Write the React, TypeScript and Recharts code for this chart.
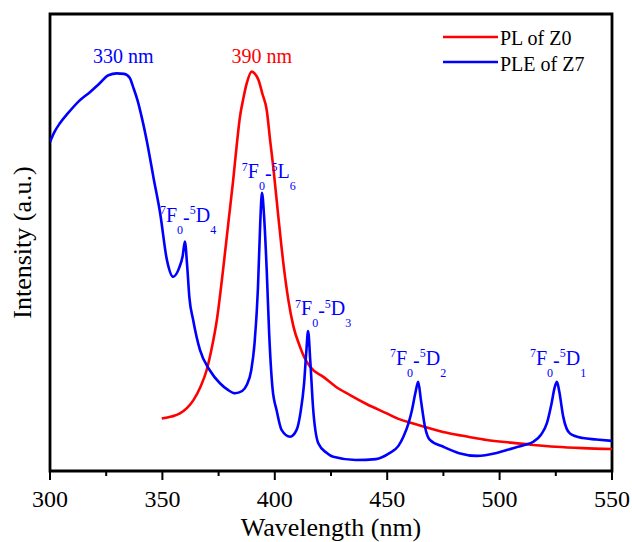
import React from 'react';
import {
  LineChart,
  Line,
  XAxis,
  YAxis,
  Legend,
  ReferenceArea,
  ReferenceDot,
} from 'recharts';

/* ── data ── */

// PLE of Z7 (blue): [wavelength nm, intensity a.u.]
const pleZ7: [number, number][] = [
  [300, 72], [302, 74.2], [304.4, 76.1], [308, 78.3], [313, 81], [318, 83],
  [322, 84.8], [326, 86.6], [329.7, 87], [333, 86.9], [335.5, 86], [337, 84],
  [339, 81], [341, 77], [343, 72.4], [346, 64.3], [349, 56.4], [352, 46.2],
  [354.8, 42.5], [357.5, 44.5], [359, 47], [360, 50.2], [361, 45], [362, 38],
  [363.7, 33], [366.7, 26.5], [371, 22.1], [375.6, 19.2], [379, 17.8],
  [382.3, 17], [385.5, 17.5], [387.5, 18.8], [389.5, 22], [391, 28],
  [392.5, 40], [393.5, 54], [394.3, 60.9], [395.2, 56], [396.4, 44],
  [397.5, 30], [399, 18], [400.8, 13.3], [403, 9], [406.8, 7.5], [409.7, 9],
  [411.5, 13], [413, 19], [414, 26], [414.8, 30.6], [415.8, 24], [417, 14],
  [419.4, 6], [423, 4], [426, 3.1], [436, 2.4], [445, 2.6], [451, 3.9],
  [455, 5.5], [457.2, 7.5], [459.5, 10.5], [461, 13.3], [462.5, 17],
  [463.8, 19.5], [465, 15.5], [466.8, 9.7], [469, 6.8], [475, 5.3],
  [482, 3.9], [490, 3.3], [499, 4], [506, 5], [511, 5.7], [515, 6.4],
  [518.5, 8], [521, 10.4], [523, 14.5], [524.5, 18.3], [525.5, 19.5],
  [526.5, 17.5], [528.3, 11.9], [531.3, 8.2], [537, 7.2], [543, 6.9],
  [550, 6.6],
];

// PL of Z0 (red)
const plZ0: [number, number][] = [
  [349.7, 11.5], [354, 11.9], [357.8, 12.6], [361, 13.8], [363.8, 15.5],
  [367, 18.5], [369.7, 22.1], [372, 27], [374.2, 33], [377.1, 44.5],
  [379.5, 55], [381.5, 63.7], [383, 71], [384.5, 77.5], [386, 81.5],
  [387.5, 84.8], [389.7, 87.4], [391, 87], [392.7, 85.6], [394.5, 82.5],
  [396.4, 79], [398, 72], [399.3, 66.6], [401.5, 56], [403.8, 45.5],
  [406, 37.5], [408.3, 31.6], [411.2, 27.2], [413, 25], [415.7, 22.8],
  [421.6, 20.6], [427, 18.5], [433.5, 16.6], [441, 14.6], [449.8, 12.6],
  [455, 11.4], [461.6, 10.4], [470, 9.2], [478, 8.2], [486, 7.5],
  [494.3, 6.8], [505, 6.2], [515, 5.7], [525, 5.3], [537, 5], [550, 4.8],
];

const xTicks = [300, 325, 350, 375, 400, 425, 450, 475, 500, 525, 550];

// peak labels: anchor in data units
const peakLabels = [
  { x: 332.6, y: 89.2, text: '330 nm', color: '#0000ff' },
  { x: 394.2, y: 89.2, text: '390 nm', color: '#ff0000' },
];

// 7F0-5Dj / 5L6 transitions
const transitions = [
  { x: 348.9, y: 54.5, upper: 'D', j: '4' },
  { x: 385.3, y: 64.1, upper: 'L', j: '6' },
  { x: 409.0, y: 34.1, upper: 'D', j: '3' },
  { x: 451.2, y: 23.2, upper: 'D', j: '2' },
  { x: 513.5, y: 23.2, upper: 'D', j: '1' },
];

const pleData = pleZ7.map(([x, y]) => ({ x, y }));
const plData = plZ0.map(([x, y]) => ({ x, y }));

const FONT = "'Liberation Serif', 'Times New Roman', serif";
const serif = { fontFamily: FONT };

const XTick = (props: any) => {
  const { x, y, payload } = props;
  const major = payload.value % 50 === 0;
  return (
    <g>
      <line x1={x} x2={x} y1={y} y2={y + (major ? 9 : 5)} stroke="#000" strokeWidth={2} />
      {major && (
        <text x={x} y={y + 36} textAnchor="middle" style={serif} fontSize={24} fill="#000">
          {payload.value}
        </text>
      )}
    </g>
  );
};

const XTitle = (props: any) => {
  const vb = props.viewBox || { x: 50, width: 562, y: 471, height: 71 };
  return (
    <text x={vb.x + vb.width / 2} y={536} textAnchor="middle" style={serif} fontSize={26} fill="#000">
      Wavelength (nm)
    </text>
  );
};

const YTitle = (props: any) => {
  const vb = props.viewBox || { y: 14, height: 457 };
  const cx = 22;
  const cy = vb.y + vb.height / 2;
  return (
    <text
      x={cx}
      y={cy}
      transform={`rotate(-90 ${cx} ${cy})`}
      textAnchor="middle"
      dominantBaseline="central"
      style={serif}
      fontSize={26}
      fill="#000"
    >
      Intensity (a.u.)
    </text>
  );
};

const renderLegend = () => (
  <svg width={190} height={56} style={{ display: 'block' }}>
    <line x1={3} x2={58} y1={13} y2={13} stroke="#ff0000" strokeWidth={2.6} />
    <text x={60} y={21} style={serif} fontSize={20} fill="#000">PL of Z0</text>
    <line x1={3} x2={58} y1={38} y2={38} stroke="#0000ff" strokeWidth={2.6} />
    <text x={60} y={46.5} style={serif} fontSize={20} fill="#000">PLE of Z7</text>
  </svg>
);

export default function App() {
  return (
    <div style={{ position: 'absolute', left: 0, top: 0, background: '#fff', fontFamily: FONT }}>
      <LineChart width={632} height={542} margin={{ top: 14, right: 20, bottom: 0, left: 0 }}>
        <XAxis
          type="number"
          dataKey="x"
          domain={[300, 550]}
          ticks={xTicks}
          allowDataOverflow
          height={71}
          axisLine={false}
          tickLine={false}
          tickSize={0}
          tickMargin={0}
          tick={<XTick />}
          interval={0}
          label={<XTitle />}
        />
        <YAxis
          type="number"
          domain={[0, 100]}
          allowDataOverflow
          width={50}
          tick={false}
          tickLine={false}
          axisLine={false}
          label={<YTitle />}
        />
        <ReferenceArea x1={300} x2={550} y1={0} y2={100} fill="none" stroke="#000" strokeWidth={2.8} />
        <Legend
          layout="horizontal"
          verticalAlign="middle"
          align="center"
          content={renderLegend}
          wrapperStyle={{ left: 440, top: 24, width: 190, height: 56 }}
        />
        <Line
          data={plData}
          dataKey="y"
          name="PL of Z0"
          type="monotone"
          stroke="#ff0000"
          strokeWidth={2.6}
          dot={false}
          isAnimationActive={false}
        />
        <Line
          data={pleData}
          dataKey="y"
          name="PLE of Z7"
          type="monotone"
          stroke="#0000ff"
          strokeWidth={2.6}
          dot={false}
          isAnimationActive={false}
        />
        {peakLabels.map((p) => (
          <ReferenceDot
            key={p.text}
            x={p.x}
            y={p.y}
            r={0}
            shape={(s: any) => (
              <text x={s.cx} y={s.cy} textAnchor="middle" style={serif} fontSize={20} fill={p.color}>
                {p.text}
              </text>
            )}
          />
        ))}
        {transitions.map((t) => (
          <ReferenceDot
            key={t.upper + t.j}
            x={t.x}
            y={t.y}
            r={0}
            shape={(s: any) => (
              <text x={s.cx} y={s.cy} style={serif} fontSize={20} fill="#0000ff">
                <tspan fontSize={12} dy={-7.5}>7</tspan>
                <tspan dy={7.5}>F</tspan>
                <tspan fontSize={12} dy={12}>0</tspan>
                <tspan dy={-10}>-</tspan>
                <tspan fontSize={12} dy={-9.5}>5</tspan>
                <tspan dy={7.5}>{t.upper}</tspan>
                <tspan fontSize={12} dy={12}>{t.j}</tspan>
              </text>
            )}
          />
        ))}
      </LineChart>
    </div>
  );
}
